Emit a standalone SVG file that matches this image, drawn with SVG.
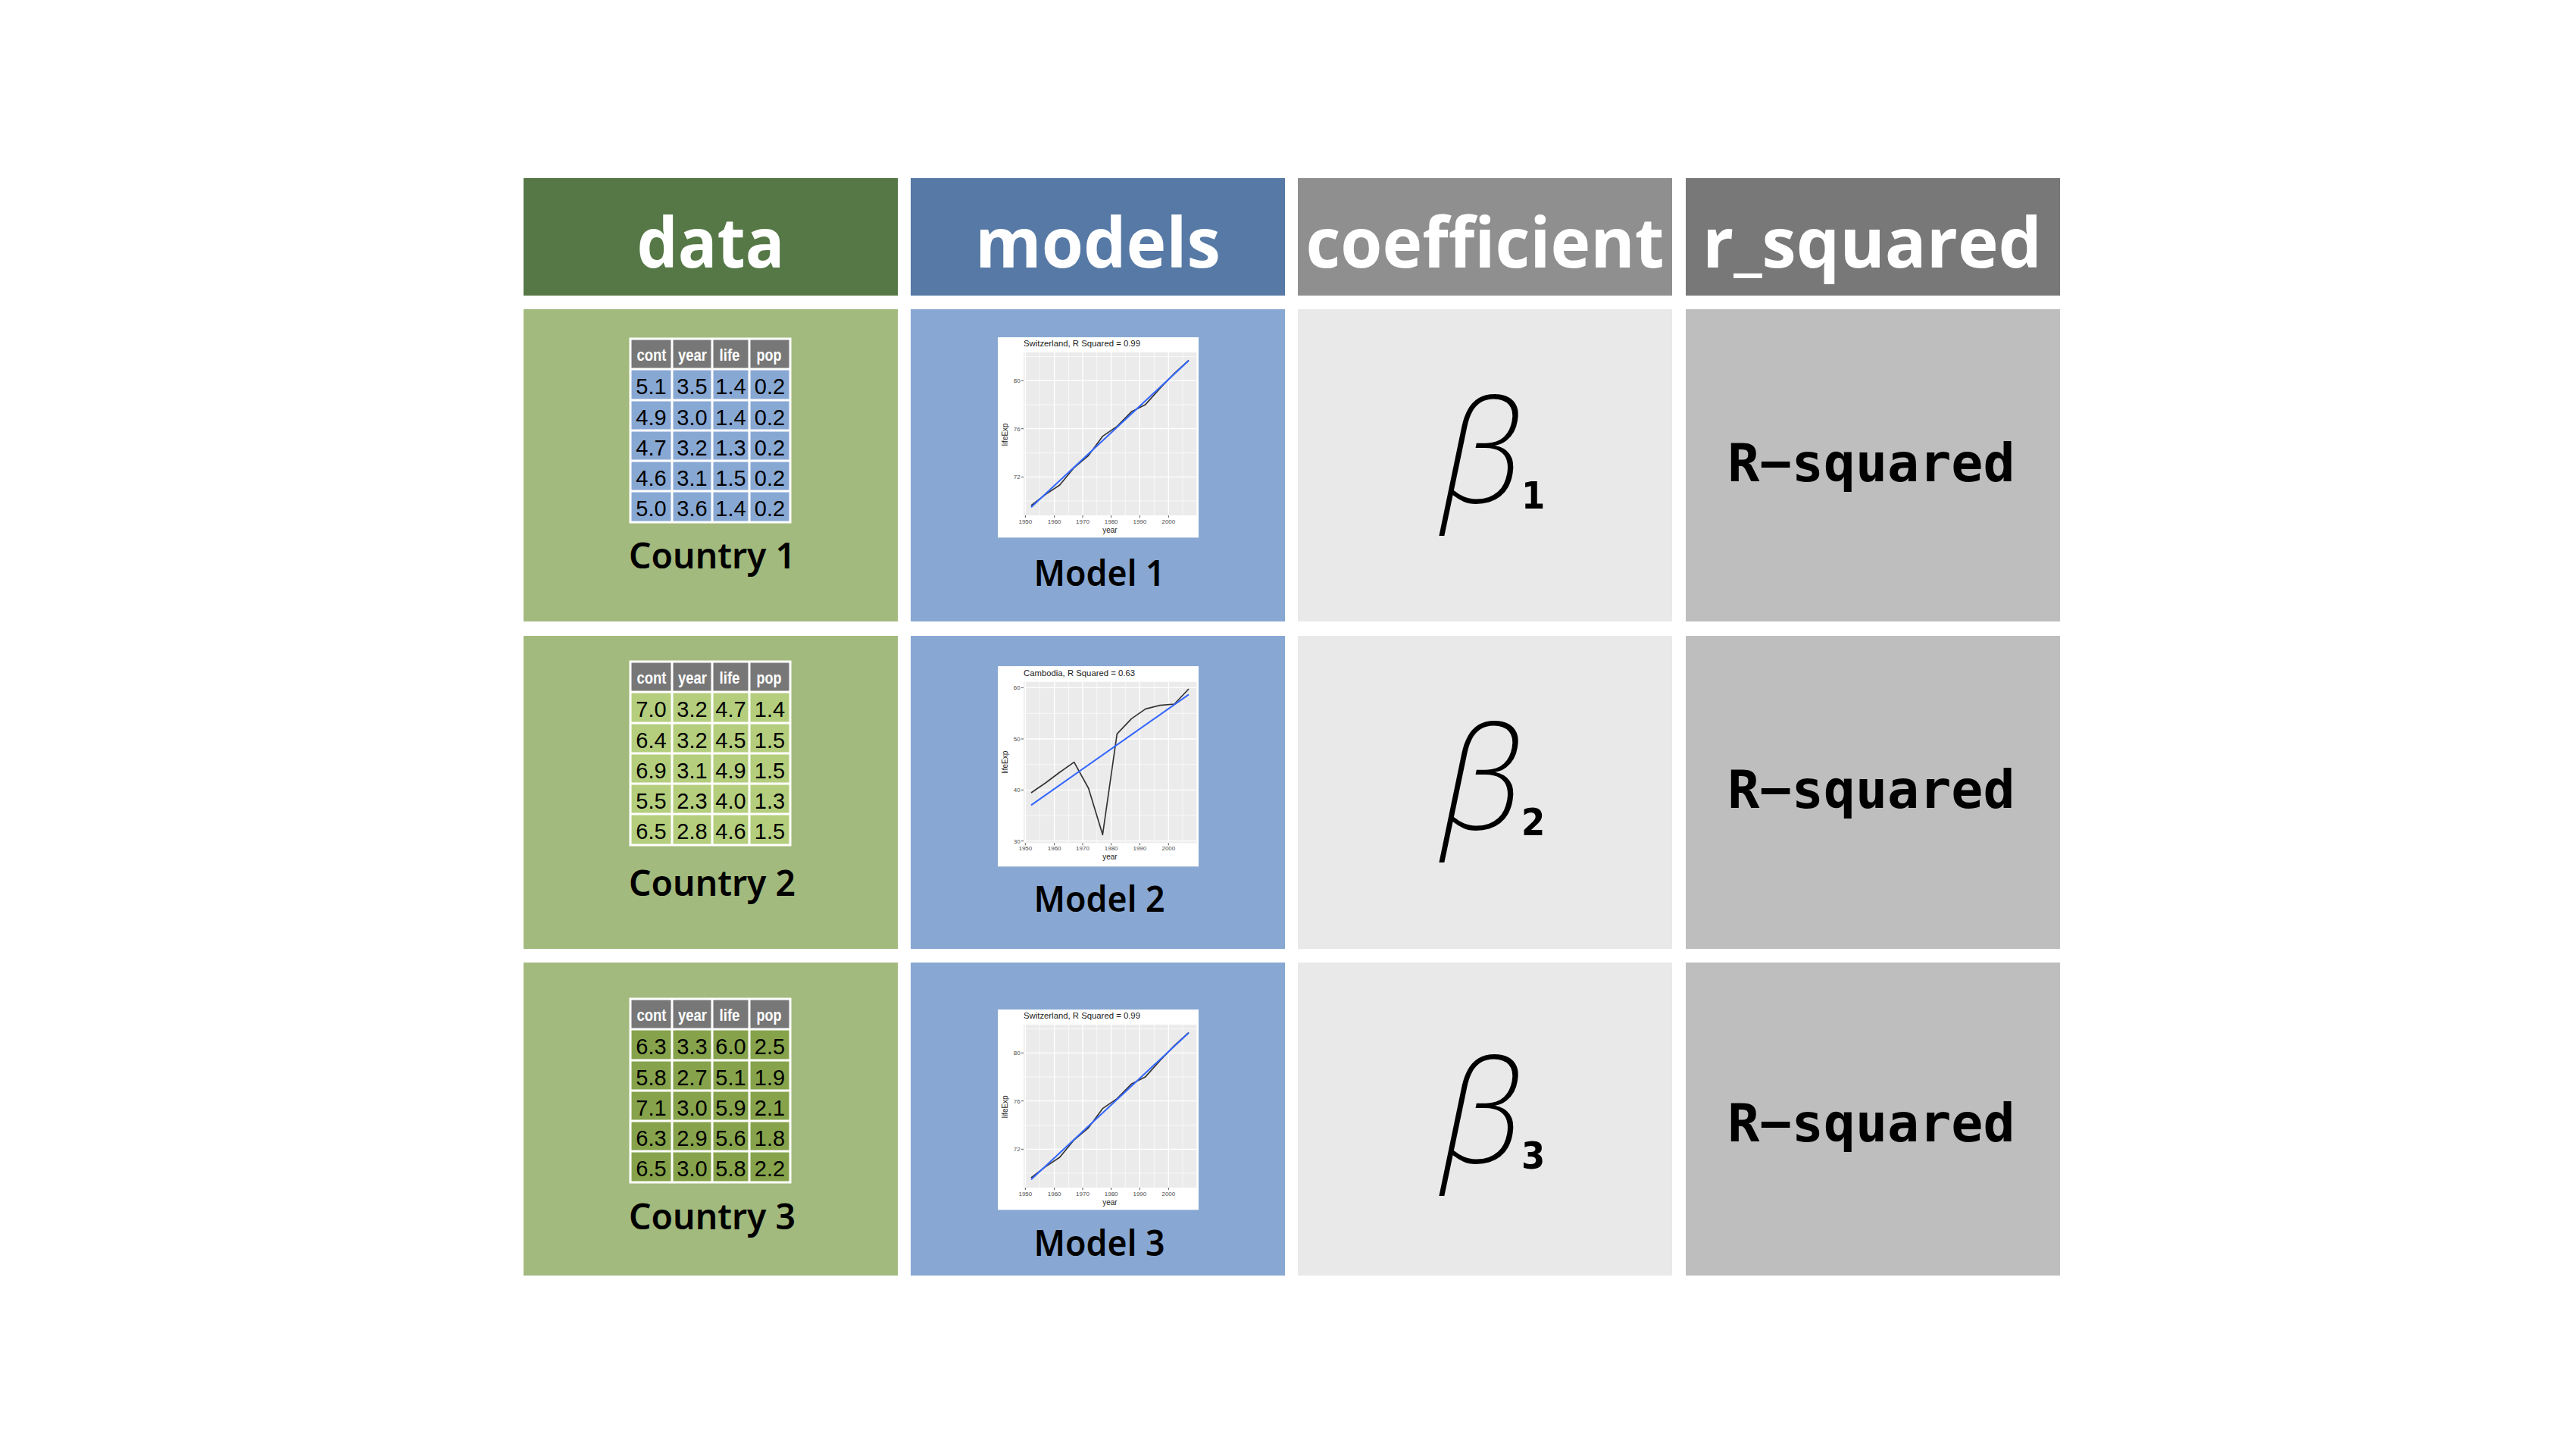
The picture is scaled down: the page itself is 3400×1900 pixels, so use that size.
<svg xmlns="http://www.w3.org/2000/svg" xmlns:xlink="http://www.w3.org/1999/xlink" width="3400" height="1900" viewBox="0 0 3400 1900">
<style>
.hd{font-family:"Open Sans","Noto Sans",sans-serif;font-weight:700;font-size:92px;fill:#fff;text-anchor:middle}
.lbl{font-family:"Noto Sans","Open Sans",sans-serif;font-weight:600;font-size:47px;fill:#000;text-anchor:middle}
.th{font-family:"Liberation Sans",Arial,sans-serif;font-weight:700;font-size:22px;fill:#fff;text-anchor:middle}
.td{font-family:"Liberation Sans",Arial,sans-serif;font-size:29px;fill:#000;text-anchor:middle}
.beta{font-family:"Noto Sans","DejaVu Sans",sans-serif;font-style:italic;font-weight:200;font-size:188px;fill:#000}
.sub{font-family:"DejaVu Sans Condensed","DejaVu Sans",sans-serif;font-weight:700;font-size:50px;fill:#000}
.rsq{font-family:"DejaVu Sans Mono",monospace;font-weight:700;font-size:70px;fill:#000;text-anchor:middle}
.pt{font-family:"Liberation Sans",Arial,sans-serif;fill:#1a1a1a}
.tick{font-family:"Liberation Sans",Arial,sans-serif;font-size:24px;fill:#4d4d4d}
.gmin{stroke:#fff;stroke-width:2;fill:none}
.gmaj{stroke:#fff;stroke-width:4;fill:none}
.tk{stroke:#333;stroke-width:2.5}
.obs{fill:none;stroke:#333;stroke-width:5;stroke-linejoin:round}
.fit{fill:none;stroke:#3366ff;stroke-width:6}
</style>
<defs>
<g id="grid">
<rect x="832" y="0" width="211" height="242" fill="none" stroke="#fff" stroke-width="3"/>
<path d="M887 0V242M940 0V242M989 0V242M832 40H1043M832 81H1043M832 121H1043M832 161H1043M832 201H1043" stroke="#fff" stroke-width="3"/>
</g>
<g id="thead">
<rect x="832" y="0" width="211" height="40" fill="#777777"/>
<text class="th" x="860" y="29" textLength="39" lengthAdjust="spacingAndGlyphs">cont</text>
<text class="th" x="914" y="29" textLength="38" lengthAdjust="spacingAndGlyphs">year</text>
<text class="th" x="963" y="29" textLength="27" lengthAdjust="spacingAndGlyphs">life</text>
<text class="th" x="1015" y="29" textLength="33" lengthAdjust="spacingAndGlyphs">pop</text>
</g>
<g id="swiss">
<rect x="381" y="135" width="795" height="793" fill="#fff"/>
<rect x="483" y="195" width="685" height="645" fill="#ebebeb"/>
<path class="gmin" d="M483 212H1168M483 402H1168M483 593H1168M483 783H1168M547 195V840M661 195V840M773 195V840M886 195V840M1000 195V840M1113 195V840"/>
<path class="gmaj" d="M483 307H1168M483 497H1168M483 688H1168M490 195V840M605 195V840M717 195V840M830 195V840M943 195V840M1057 195V840"/>
<path class="tk" d="M474 307H483M474 497H483M474 688H483M490 840V849M605 840V849M717 840V849M830 840V849M943 840V849M1057 840V849"/>
<text class="tick" x="470" y="316" text-anchor="end">80</text>
<text class="tick" x="470" y="506" text-anchor="end">76</text>
<text class="tick" x="470" y="697" text-anchor="end">72</text>
<g class="tick" text-anchor="middle">
<text x="490" y="872">1950</text><text x="605" y="872">1960</text><text x="717" y="872">1970</text><text x="830" y="872">1980</text><text x="943" y="872">1990</text><text x="1057" y="872">2000</text>
</g>
<text class="pt" x="825" y="908" font-size="30" text-anchor="middle">year</text>
<text class="pt" x="0" y="0" font-size="30" text-anchor="middle" transform="translate(421,520) rotate(-90)">lifeExp</text>
<text class="pt" x="483" y="172" font-size="34">Switzerland, R Squared = 0.99</text>
<polyline class="obs" points="513,801 570,757 626,720 683,651 740,603 796,527 853,488 910,430 966,401 1023,337 1080,278 1137,226"/>
<line class="fit" x1="513" y1="808" x2="1137" y2="227"/>
</g>
<g id="cambodia">
<rect x="381" y="148" width="795" height="793" fill="#fff"/>
<rect x="483" y="210" width="685" height="638" fill="#ebebeb"/>
<path class="gmin" d="M483 335H1168M483 537H1168M483 739H1168M547 210V848M661 210V848M773 210V848M886 210V848M1000 210V848M1113 210V848"/>
<path class="gmaj" d="M483 233H1168M483 436H1168M483 638H1168M483 840H1168M490 210V848M605 210V848M717 210V848M830 210V848M943 210V848M1057 210V848"/>
<path class="tk" d="M474 233H483M474 436H483M474 638H483M474 840H483M490 848V857M605 848V857M717 848V857M830 848V857M943 848V857M1057 848V857"/>
<text class="tick" x="470" y="242" text-anchor="end">60</text>
<text class="tick" x="470" y="445" text-anchor="end">50</text>
<text class="tick" x="470" y="647" text-anchor="end">40</text>
<text class="tick" x="470" y="849" text-anchor="end">30</text>
<g class="tick" text-anchor="middle">
<text x="490" y="877">1950</text><text x="605" y="877">1960</text><text x="717" y="877">1970</text><text x="830" y="877">1980</text><text x="943" y="877">1990</text><text x="1057" y="877">2000</text>
</g>
<text class="pt" x="825" y="913" font-size="30" text-anchor="middle">year</text>
<text class="pt" x="0" y="0" font-size="30" text-anchor="middle" transform="translate(421,528) rotate(-90)">lifeExp</text>
<text class="pt" x="483" y="187" font-size="34">Cambodia, R Squared = 0.63</text>
<polyline class="obs" points="513,649 570,610 626,568 683,528 740,631 796,815 853,416 910,356 966,317 1023,303 1080,298 1137,238"/>
<line class="fit" x1="513" y1="698" x2="1137" y2="260"/>
</g>
</defs>
<rect width="3400" height="1900" fill="#fff"/>

<g id="header-data"><rect x="691" y="235" width="494" height="155" fill="#557846"/><text class="hd" x="938" y="353" textLength="195" lengthAdjust="spacingAndGlyphs">data</text></g>
<g id="header-models"><rect x="1202" y="235" width="494" height="155" fill="#5779a5"/><text class="hd" x="1449" y="353" textLength="324" lengthAdjust="spacingAndGlyphs">models</text></g>
<g id="header-coefficient"><rect x="1713" y="235" width="494" height="155" fill="#8f8f8f"/><text class="hd" x="1960" y="353" textLength="473" lengthAdjust="spacingAndGlyphs">coefficient</text></g>
<g id="header-r_squared"><rect x="2225" y="235" width="494" height="155" fill="#787878"/><text class="hd" x="2471" y="353" textLength="448" lengthAdjust="spacingAndGlyphs">r_squared</text></g>

<g id="data-1">
<rect x="691" y="408" width="494" height="412" fill="#a3ba7e"/>
<g transform="translate(0,447)">
<use xlink:href="#thead"/>
<rect x="832" y="40" width="211" height="202" fill="#88a8d4"/>
<use xlink:href="#grid"/>
<text class="td" x="859.5" y="73">5.1</text><text class="td" x="913.5" y="73">3.5</text><text class="td" x="964.5" y="73">1.4</text><text class="td" x="1016" y="73">0.2</text>
<text class="td" x="859.5" y="114">4.9</text><text class="td" x="913.5" y="114">3.0</text><text class="td" x="964.5" y="114">1.4</text><text class="td" x="1016" y="114">0.2</text>
<text class="td" x="859.5" y="154">4.7</text><text class="td" x="913.5" y="154">3.2</text><text class="td" x="964.5" y="154">1.3</text><text class="td" x="1016" y="154">0.2</text>
<text class="td" x="859.5" y="194">4.6</text><text class="td" x="913.5" y="194">3.1</text><text class="td" x="964.5" y="194">1.5</text><text class="td" x="1016" y="194">0.2</text>
<text class="td" x="859.5" y="234">5.0</text><text class="td" x="913.5" y="234">3.6</text><text class="td" x="964.5" y="234">1.4</text><text class="td" x="1016" y="234">0.2</text>
</g>
<text class="lbl" x="940" y="750" textLength="220" lengthAdjust="spacingAndGlyphs">Country 1</text>
</g>

<g id="data-2">
<rect x="691" y="839" width="494" height="413" fill="#a3ba7e"/>
<g transform="translate(0,873)">
<use xlink:href="#thead"/>
<rect x="832" y="40" width="211" height="202" fill="#b4ce7e"/>
<use xlink:href="#grid"/>
<text class="td" x="859.5" y="73">7.0</text><text class="td" x="913.5" y="73">3.2</text><text class="td" x="964.5" y="73">4.7</text><text class="td" x="1016" y="73">1.4</text>
<text class="td" x="859.5" y="114">6.4</text><text class="td" x="913.5" y="114">3.2</text><text class="td" x="964.5" y="114">4.5</text><text class="td" x="1016" y="114">1.5</text>
<text class="td" x="859.5" y="154">6.9</text><text class="td" x="913.5" y="154">3.1</text><text class="td" x="964.5" y="154">4.9</text><text class="td" x="1016" y="154">1.5</text>
<text class="td" x="859.5" y="194">5.5</text><text class="td" x="913.5" y="194">2.3</text><text class="td" x="964.5" y="194">4.0</text><text class="td" x="1016" y="194">1.3</text>
<text class="td" x="859.5" y="234">6.5</text><text class="td" x="913.5" y="234">2.8</text><text class="td" x="964.5" y="234">4.6</text><text class="td" x="1016" y="234">1.5</text>
</g>
<text class="lbl" x="940" y="1182" textLength="220" lengthAdjust="spacingAndGlyphs">Country 2</text>
</g>

<g id="data-3">
<rect x="691" y="1270" width="494" height="413" fill="#a3ba7e"/>
<g transform="translate(0,1318)">
<use xlink:href="#thead"/>
<rect x="832" y="40" width="211" height="202" fill="#86a34c"/>
<use xlink:href="#grid"/>
<text class="td" x="859.5" y="73">6.3</text><text class="td" x="913.5" y="73">3.3</text><text class="td" x="964.5" y="73">6.0</text><text class="td" x="1016" y="73">2.5</text>
<text class="td" x="859.5" y="114">5.8</text><text class="td" x="913.5" y="114">2.7</text><text class="td" x="964.5" y="114">5.1</text><text class="td" x="1016" y="114">1.9</text>
<text class="td" x="859.5" y="154">7.1</text><text class="td" x="913.5" y="154">3.0</text><text class="td" x="964.5" y="154">5.9</text><text class="td" x="1016" y="154">2.1</text>
<text class="td" x="859.5" y="194">6.3</text><text class="td" x="913.5" y="194">2.9</text><text class="td" x="964.5" y="194">5.6</text><text class="td" x="1016" y="194">1.8</text>
<text class="td" x="859.5" y="234">6.5</text><text class="td" x="913.5" y="234">3.0</text><text class="td" x="964.5" y="234">5.8</text><text class="td" x="1016" y="234">2.2</text>
</g>
<text class="lbl" x="940" y="1622" textLength="220" lengthAdjust="spacingAndGlyphs">Country 3</text>
</g>

<g id="model-1">
<rect x="1202" y="408" width="494" height="412" fill="#88a8d3"/>
<use xlink:href="#swiss" transform="translate(1317,445) scale(0.33333) translate(-381,-135)"/>
<text class="lbl" x="1451" y="773" textLength="173" lengthAdjust="spacingAndGlyphs">Model 1</text>
</g>
<g id="model-2">
<rect x="1202" y="839" width="494" height="413" fill="#88a8d3"/>
<use xlink:href="#cambodia" transform="translate(1317,879) scale(0.33333) translate(-381,-148)"/>
<text class="lbl" x="1451" y="1203" textLength="173" lengthAdjust="spacingAndGlyphs">Model 2</text>
</g>
<g id="model-3">
<rect x="1202" y="1270" width="494" height="413" fill="#88a8d3"/>
<use xlink:href="#swiss" transform="translate(1317,1332) scale(0.33333) translate(-381,-135)"/>
<text class="lbl" x="1451" y="1657" textLength="173" lengthAdjust="spacingAndGlyphs">Model 3</text>
</g>

<g id="coef-1"><rect x="1713" y="408" width="494" height="412" fill="#e9e9e9"/><text class="beta" x="1902" y="663">β</text><text class="sub" x="2008" y="671">1</text></g>
<g id="coef-2"><rect x="1713" y="839" width="494" height="413" fill="#e9e9e9"/><text class="beta" x="1902" y="1094">β</text><text class="sub" x="2008" y="1102">2</text></g>
<g id="coef-3"><rect x="1713" y="1270" width="494" height="413" fill="#e9e9e9"/><text class="beta" x="1902" y="1534">β</text><text class="sub" x="2008" y="1542">3</text></g>

<g id="rsq-1"><rect x="2225" y="408" width="494" height="412" fill="#bebebe"/><text class="rsq" x="2470" y="635">R−squared</text></g>
<g id="rsq-2"><rect x="2225" y="839" width="494" height="413" fill="#bebebe"/><text class="rsq" x="2470" y="1066">R−squared</text></g>
<g id="rsq-3"><rect x="2225" y="1270" width="494" height="413" fill="#bebebe"/><text class="rsq" x="2470" y="1506">R−squared</text></g>

<g id="connectors"/>
</svg>
